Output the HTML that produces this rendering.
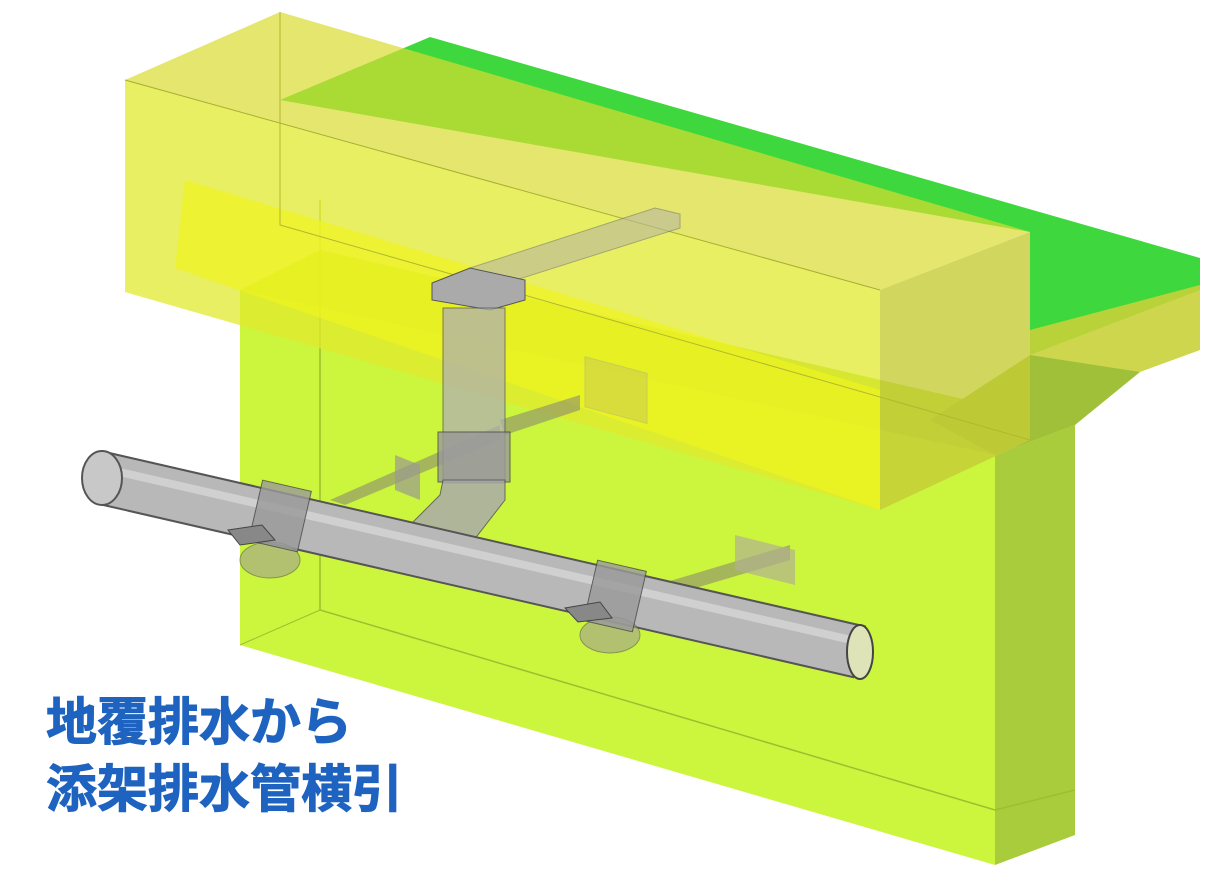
<!DOCTYPE html>
<html><head><meta charset="utf-8"><style>
body{margin:0;background:#fff;width:1205px;height:881px;overflow:hidden;position:relative}
.t{position:absolute;left:46px;font-family:"Liberation Sans","Noto Sans CJK JP",sans-serif;font-weight:bold;font-size:51px;color:#1e63c0;line-height:1;-webkit-text-stroke:1px #1e63c0}
</style></head><body>
<svg width="1205" height="881" style="position:absolute;left:0;top:0">
<!-- pier -->
<polygon points="240,290 995,455 995,865 240,645" fill="#ccf53e"/>
<polygon points="995,455 1075,425 1075,835 995,865" fill="#a9cc3c"/>
<polygon points="240,290 320,250 1075,425 995,455" fill="#b8dc3a"/>
<polyline points="320,200 320,610 995,810 1075,790" fill="none" stroke="#9cbf30" stroke-width="1.5"/>
<line x1="240" y1="645" x2="320" y2="610" stroke="#9cbf30"/>
<!-- green slab -->
<polygon points="430,37 1200,258 1200,290 1030,355 1030,232 280,100" fill="#3ed83e"/>
<polygon points="1030,330 1200,285 1200,350 1140,372 1030,390" fill="#c8d23a" opacity="0.9"/>
<polygon points="930,420 1030,355 1140,372 1075,425 995,455" fill="#a0c03a"/>
<!-- yellow cap beam -->
<polygon points="125,80 280,12 1030,232 880,290" fill="#d8dc30" opacity="0.7"/>
<polygon points="125,80 880,290 880,510 125,292" fill="#e2ea2e" opacity="0.75"/>
<polygon points="185,180 880,390 880,510 175,268" fill="#eef41e" opacity="0.7"/>
<polygon points="880,290 1030,232 1030,440 880,510" fill="#c4cc36" opacity="0.8"/>
<polyline points="280,12 280,225 1030,440" fill="none" stroke="#b0b830" stroke-width="1"/>
<line x1="125" y1="80" x2="880" y2="290" stroke="#a8b030"/>
<!-- supports -->
<polygon points="330,500 500,425 500,440 345,505" fill="#8a8a70" opacity="0.6"/>
<polygon points="395,455 420,465 420,500 395,490" fill="#9a9a90" opacity="0.7"/>
<polygon points="640,590 790,545 790,560 655,600" fill="#8a8a70" opacity="0.6"/>
<polygon points="735,535 795,550 795,585 735,570" fill="#b0b090" opacity="0.7"/>
<polygon points="500,420 580,395 580,410 505,435" fill="#8a8a70" opacity="0.6"/>
<rect x="585" y="360" width="62" height="50" fill="#c0c060" opacity="0.4" stroke="#999" transform="skewY(15) translate(0,-160)"/>
<!-- top duct -->
<polygon points="470,268 655,208 680,214 680,228 500,285" fill="#b8b8a0" opacity="0.6" stroke="#777" stroke-width="1"/>
<polygon points="432,283 470,268 525,280 525,300 490,310 432,300" fill="#aaa" stroke="#555"/>
<!-- vertical pipe -->
<rect x="443" y="308" width="62" height="175" fill="#b0b0b0" opacity="0.75" stroke="#555"/>
<rect x="438" y="432" width="72" height="50" fill="#999" opacity="0.8" stroke="#444"/>
<path d="M443,480 L505,480 L505,500 L470,545 L415,560 L400,535 L440,495 Z" fill="#aaa" opacity="0.85" stroke="#555"/>
<!-- main pipe -->
<line x1="102" y1="478" x2="860" y2="652" stroke="#555" stroke-width="54"/>
<line x1="102" y1="478" x2="860" y2="652" stroke="#b8b8b8" stroke-width="50"/>
<line x1="102" y1="468" x2="860" y2="642" stroke="#d0d0d0" stroke-width="8"/>
<ellipse cx="102" cy="478" rx="20" ry="27" fill="#c8c8c8" stroke="#555" stroke-width="2"/>
<ellipse cx="860" cy="652" rx="13" ry="27" fill="#dfe4b8" stroke="#444" stroke-width="2"/>
<!-- clamps -->
<ellipse cx="270" cy="560" rx="30" ry="18" fill="#a0a090" opacity="0.6" stroke="#555"/>
<rect x="255" y="485" width="50" height="62" fill="#9a9a9a" opacity="0.8" stroke="#444" transform="rotate(13 280 516)"/>
<polygon points="228,530 262,525 275,540 240,545" fill="#888" stroke="#444"/>
<ellipse cx="610" cy="635" rx="30" ry="18" fill="#a0a090" opacity="0.6" stroke="#555"/>
<rect x="590" y="565" width="50" height="62" fill="#9a9a9a" opacity="0.8" stroke="#444" transform="rotate(13 615 596)"/>
<polygon points="565,608 600,602 612,618 578,622" fill="#888" stroke="#444"/>
</svg>
<div class="t" style="top:697px">地覆排水から</div>
<div class="t" style="top:764px">添架排水管横引</div>
</body></html>
